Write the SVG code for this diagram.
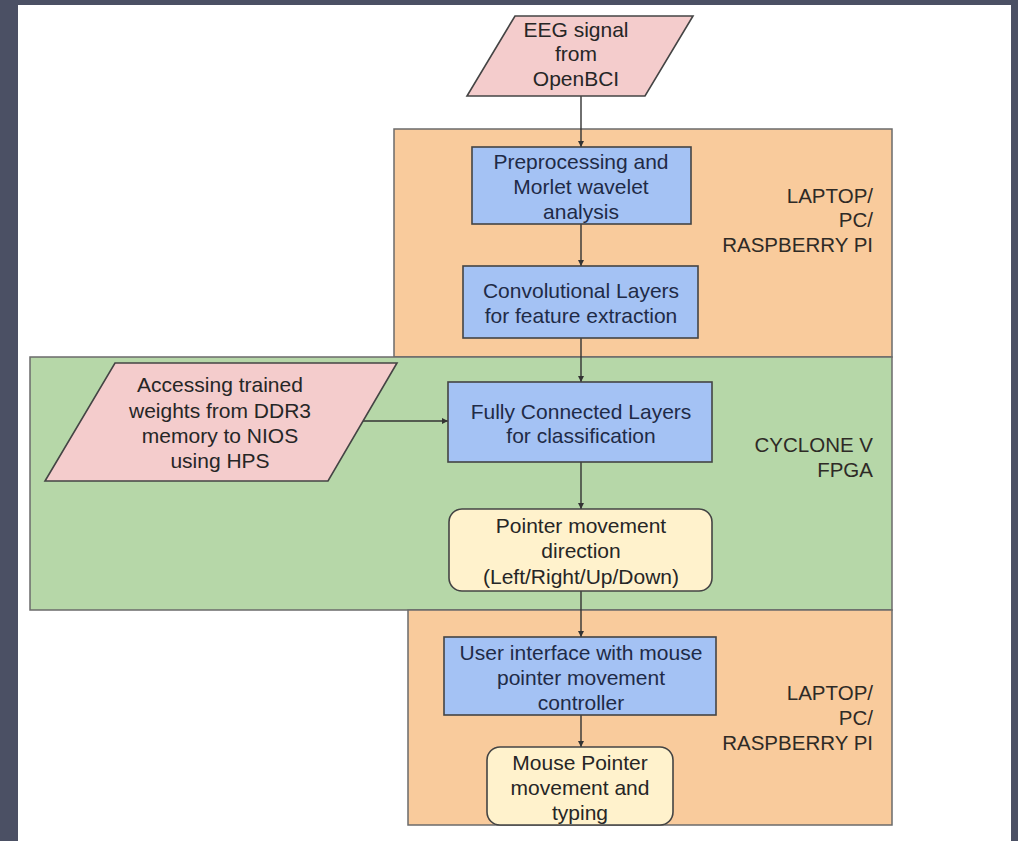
<svg xmlns="http://www.w3.org/2000/svg" width="1018" height="841" viewBox="0 0 1018 841">
<defs>
<style>
.t{font-family:"Liberation Sans",Arial,sans-serif;font-size:21px;text-anchor:middle;fill:#262626}
.tb{fill:#1f2b47}
.lab{font-family:"Liberation Sans",Arial,sans-serif;font-size:20.5px;text-anchor:end;fill:#2e2a26}
.region{stroke:#6b6b6b;stroke-width:1.5}
.node{stroke:#444;stroke-width:1.6}
.blue{fill:#a4c2f4}
.pink{fill:#f4cccc}
.cream{fill:#fff2cc}
.conn{stroke:#333;stroke-width:1.4;fill:none;marker-end:url(#arr)}
</style>
<marker id="arr" viewBox="0 0 8 8" refX="8" refY="4" markerWidth="6" markerHeight="6" markerUnits="userSpaceOnUse" orient="auto">
<path d="M0,0 L8,4 L0,8 z" fill="#333"/>
</marker>
</defs>
<rect x="0" y="0" width="1018" height="841" fill="#4b5064"/>
<rect x="18" y="5" width="993" height="836" fill="#ffffff"/>

<g id="region-laptop-top">
<rect class="region" x="394" y="129" width="498" height="228" fill="#f9cb9c"/>
<text class="lab" x="873" y="203">LAPTOP/</text>
<text class="lab" x="873" y="227">PC/</text>
<text class="lab" x="873" y="252">RASPBERRY PI</text>
</g>
<g id="region-fpga">
<rect class="region" x="30" y="357" width="862" height="253" fill="#b6d7a8"/>
<text class="lab" x="873" y="452">CYCLONE V</text>
<text class="lab" x="873" y="477">FPGA</text>
</g>
<g id="region-laptop-bottom">
<rect class="region" x="408" y="610" width="484" height="215" fill="#f9cb9c"/>
<text class="lab" x="873" y="700">LAPTOP/</text>
<text class="lab" x="873" y="725">PC/</text>
<text class="lab" x="873" y="750">RASPBERRY PI</text>
</g>

<g id="connectors">
<line class="conn" x1="581" y1="96" x2="581" y2="147"/>
<line class="conn" x1="581" y1="224" x2="581" y2="266"/>
<line class="conn" x1="581" y1="338" x2="581" y2="382"/>
<line class="conn" x1="363" y1="421" x2="448" y2="421"/>
<line class="conn" x1="581" y1="462" x2="581" y2="509"/>
<line class="conn" x1="581" y1="591" x2="581" y2="637"/>
<line class="conn" x1="581" y1="715" x2="581" y2="747"/>
</g>

<g id="eeg-signal">
<polygon class="node pink" points="515,16 693,16 645,96 467,96"/>
<text class="t" x="576" y="37">EEG signal</text>
<text class="t" x="576" y="61">from</text>
<text class="t" x="576" y="86">OpenBCI</text>
</g>
<g id="preprocessing">
<rect class="node blue" x="472" y="147" width="219" height="77"/>
<text class="t tb" x="581" y="169">Preprocessing and</text>
<text class="t tb" x="581" y="194">Morlet wavelet</text>
<text class="t tb" x="581" y="219">analysis</text>
</g>
<g id="convolutional">
<rect class="node blue" x="463" y="266" width="235" height="72"/>
<text class="t tb" x="581" y="298">Convolutional Layers</text>
<text class="t tb" x="581" y="323">for feature extraction</text>
</g>
<g id="weights">
<polygon class="node pink" points="115,363 397,363 328,481 45,481"/>
<text class="t" x="220" y="392">Accessing trained</text>
<text class="t" x="220" y="418">weights from DDR3</text>
<text class="t" x="220" y="443">memory to NIOS</text>
<text class="t" x="220" y="468">using HPS</text>
</g>
<g id="fully-connected">
<rect class="node blue" x="448" y="382" width="264" height="80"/>
<text class="t tb" x="581" y="419">Fully Connected Layers</text>
<text class="t tb" x="581" y="443">for classification</text>
</g>
<g id="pointer-direction">
<rect class="node cream" x="449" y="509" width="263" height="82" rx="13" ry="13"/>
<text class="t" x="581" y="533">Pointer movement</text>
<text class="t" x="581" y="558">direction</text>
<text class="t" x="581" y="584">(Left/Right/Up/Down)</text>
</g>
<g id="user-interface">
<rect class="node blue" x="444" y="637" width="272" height="78"/>
<text class="t tb" x="581" y="660">User interface with mouse</text>
<text class="t tb" x="581" y="685">pointer movement</text>
<text class="t tb" x="581" y="710">controller</text>
</g>
<g id="mouse-pointer">
<rect class="node cream" x="487" y="747" width="186" height="78" rx="13" ry="13"/>
<text class="t" x="580" y="770">Mouse Pointer</text>
<text class="t" x="580" y="795">movement and</text>
<text class="t" x="580" y="820">typing</text>
</g>
</svg>
